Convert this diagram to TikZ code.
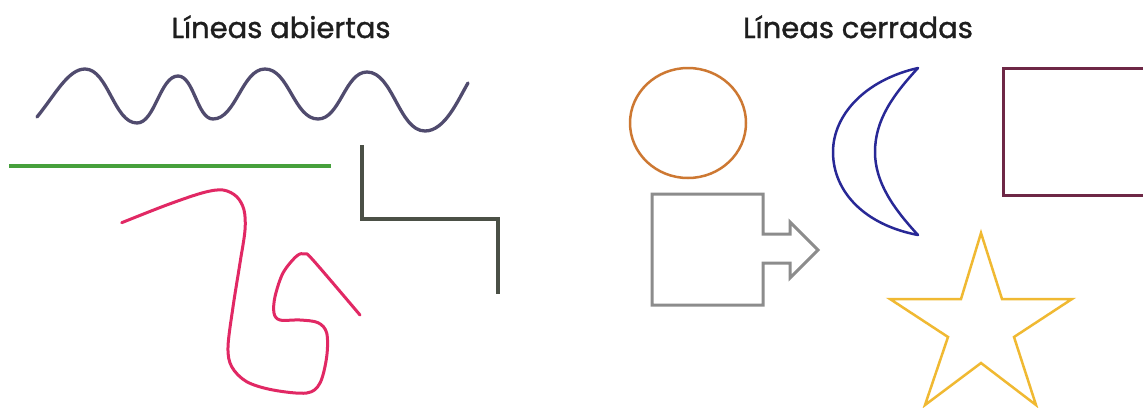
\documentclass[tikz,border=0pt]{standalone}
\usepackage{fontspec}
\setmainfont{Poppins}
\definecolor{titlecol}{RGB}{30,30,30}
\definecolor{wavecol}{RGB}{80,75,110}
\definecolor{greencol}{RGB}{70,160,60}
\definecolor{pinkcol}{RGB}{225,40,100}
\definecolor{stepcol}{RGB}{75,80,70}
\definecolor{circcol}{RGB}{205,120,50}
\definecolor{boxcol}{RGB}{140,140,140}
\definecolor{mooncol}{RGB}{40,40,150}
\definecolor{rectcol}{RGB}{110,40,70}
\definecolor{starcol}{RGB}{240,185,50}
\begin{document}
\begin{tikzpicture}[x=1pt,y=-1pt,
  title/.style={anchor=base,text=titlecol,font=\fontsize{29}{33}\selectfont\addfontfeatures{FakeBold=1.2},inner sep=0pt},
  stroke/.style={line join=round,line cap=round}]
\useasboundingbox (0,0) rectangle (1143,407);
\fill[white] (0,0) rectangle (1143,407);
% titles
\node[title] (t1) at (281,38) {Líneas abiertas};
\node[title] (t2) at (858,38) {Líneas cerradas};
% wave
\draw[stroke,wavecol,line width=3.3pt]
  (37,117) .. controls (55,95) and (68,69) .. (85,69)
  .. controls (108,69) and (114,123) .. (137,123)
  .. controls (155,123) and (160,76) .. (178,76)
  .. controls (194,76) and (197,119) .. (213,119)
  .. controls (236,119) and (242,69) .. (265,69)
  .. controls (289,69) and (294,119) .. (318,119)
  .. controls (340,119) and (345,72) .. (367,72)
  .. controls (393,72) and (399,131) .. (425,131)
  .. controls (445,131) and (458,100) .. (468,83);
% green line
\draw[greencol,line width=4pt] (9,166) -- (331,166);
% step line
\draw[stepcol,line width=3.5pt,line join=miter] (362,145) -- (362,219) -- (498,219) -- (498,294);
% pink curve
\draw[stroke,pinkcol,line width=3pt] plot[smooth,tension=0.55] coordinates {
  (121.7,222.7) (166.7,205) (203,192.7) (223,190) (236.7,196.7) (244,210)
  (245,230) (240,263) (233,307) (228,347) (231.7,366.7) (246.7,381.7)
  (273,390) (306.7,393) (320,383) (326.7,356.7) (326.7,333) (318,322.7)
  (300,320) (280,320) (274,313) (275,296.7) (283,273) (296.7,256)
  (305,254) (313,260) (360,315)};
% circle
\draw[circcol,line width=2.5pt] (688,123) ellipse [x radius=58pt, y radius=55pt];
% square with arrow
\draw[boxcol,line width=3pt,line join=miter]
  (652,194) -- (763,194) -- (763,234) -- (790,234) -- (790,222) -- (818,250)
  -- (790,278) -- (790,263) -- (763,263) -- (763,305) -- (652,305) -- cycle;
% moon
\draw[stroke,mooncol,line width=2.5pt]
  (918,68) .. controls (865,80) and (833,115) .. (833,152)
  .. controls (833,192) and (865,225) .. (918,235)
  .. controls (893,208) and (875,182) .. (875,152)
  .. controls (875,120) and (893,95) .. (918,68) -- cycle;
% rectangle
\draw[rectcol,line width=3pt] (1003,68) rectangle (1160,195);
% star
\draw[starcol,line width=2.5pt,line join=miter]
  (981,233) -- (1002,299) -- (1072,299) -- (1014,337) -- (1036,405)
  -- (981,363) -- (925,405) -- (948,337) -- (890,299) -- (961,299) -- cycle;
\end{tikzpicture}
\end{document}
